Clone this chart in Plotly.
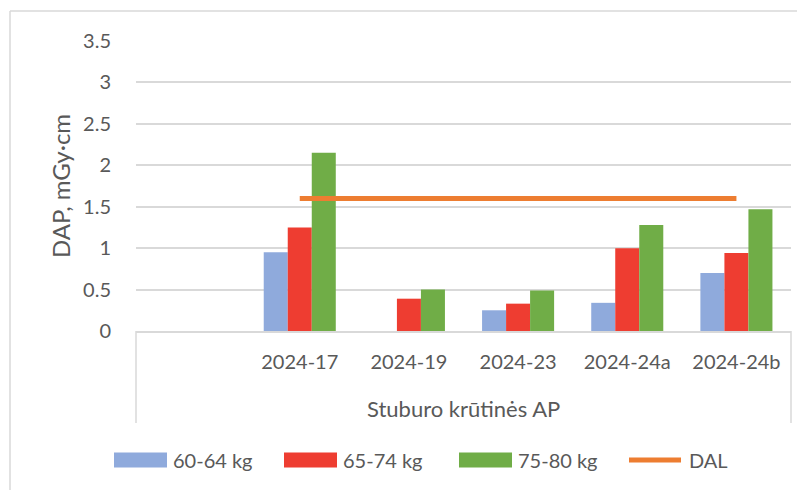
import plotly.graph_objects as go

categories = [" ", "2024-17", "2024-19", "2024-23", "2024-24a", "2024-24b"]
group_label = "Stuburo krūtinės AP"
series_names = ["60-64 kg", "65-74 kg", "75-80 kg"]
w60_64 = [None, 0.95, 0, 0.25, 0.34, 0.70]
w65_74 = [None, 1.25, 0.39, 0.33, 1.00, 0.94]
w75_80 = [None, 2.15, 0.50, 0.49, 1.28, 1.47]
dal_name = "DAL"
dal = [None, 1.6, 1.6, 1.6, 1.6, 1.6]
y_title = "DAP, mGy·cm"

colors = ["#8FAADC", "#EE3D31", "#70AD47"]
dal_color = "#ED7D31"
text_color = "#595959"
grid_color = "#D9D9D9"
FONT = "Lato"

# the page body has an 8px margin, so the figure is made 8px smaller and
# everything below is laid out in page pixels minus that offset
OFF = 8
W, H = 805 - OFF, 490 - OFF
L, T = 136 - OFF, 41 - OFF
R = W - (791 - OFF)
B = H - (331 - OFF)
pw, ph = W - L - R, H - T - B


def px(x):  # page pixel -> paper x
  return (x - OFF - L) / pw


def py(y):  # page pixel -> paper y
  return (H - B - (y - OFF)) / ph


fig = go.Figure()
for name, vals, c in zip(series_names, [w60_64, w65_74, w75_80], colors):
  fig.add_trace(go.Bar(x=categories, y=vals, name=name, marker=dict(color=c, line=dict(width=0)),
                       showlegend=False))
fig.add_trace(go.Scatter(x=categories, y=dal, name=dal_name, mode="lines",
                         line=dict(color=dal_color, width=5), showlegend=False))

shapes = [
  # outer chart border (left + top)
  dict(type="line", xref="paper", yref="paper", x0=px(10), x1=px(820), y0=py(11), y1=py(11),
       line=dict(color=grid_color, width=1.5)),
  dict(type="line", xref="paper", yref="paper", x0=px(10), x1=px(10), y0=py(11), y1=py(500),
       line=dict(color=grid_color, width=1.5)),
  # category axis frame
  dict(type="line", xref="paper", yref="paper", x0=0, x1=0, y0=0, y1=py(423),
       line=dict(color=grid_color, width=1.5)),
  dict(type="line", xref="paper", yref="paper", x0=1, x1=1, y0=0, y1=py(423),
       line=dict(color=grid_color, width=1.5)),
]
annotations = [
  dict(text=group_label, xref="paper", yref="paper", x=0.5, y=py(408), showarrow=False,
       font=dict(family=FONT, size=22, color=text_color), xanchor="center", yanchor="middle"),
  dict(text=y_title, xref="paper", yref="paper", x=px(60), y=0.5, showarrow=False, textangle=-90,
       font=dict(family=FONT, size=24, color=text_color), xanchor="center", yanchor="middle"),
]

# legend drawn by hand so swatches match the wide Excel-style keys
legend_x = [114, 284, 459]
for name, c, x0 in zip(series_names, colors, legend_x):
  shapes.append(dict(type="rect", xref="paper", yref="paper", x0=px(x0), x1=px(x0 + 53),
                     y0=py(467.5), y1=py(452.5), fillcolor=c, line=dict(width=0)))
  annotations.append(dict(text=name, xref="paper", yref="paper", x=px(x0 + 57), y=py(460),
                          showarrow=False, xanchor="left", yanchor="middle",
                          font=dict(family=FONT, size=20, color=text_color)))
shapes.append(dict(type="line", xref="paper", yref="paper", x0=px(629), x1=px(681),
                   y0=py(460), y1=py(460), line=dict(color=dal_color, width=5)))
annotations.append(dict(text=dal_name, xref="paper", yref="paper", x=px(687), y=py(460),
                        showarrow=False, xanchor="left", yanchor="middle",
                        font=dict(family=FONT, size=20, color=text_color)))

fig.update_layout(
  width=W, height=H,
  margin=dict(l=L, r=R, t=T, b=B, pad=0),
  barmode="group", bargap=0.34, bargroupgap=0,
  plot_bgcolor="white", paper_bgcolor="white",
  font=dict(family=FONT, size=20, color=text_color),
  shapes=shapes, annotations=annotations,
  showlegend=False,
)
fig.update_xaxes(type="category", categoryorder="array", categoryarray=categories,
                 showline=True, linecolor=grid_color, linewidth=1.5, showgrid=False,
                 ticks="", ticklabelstandoff=12, tickfont=dict(size=20))
fig.update_yaxes(range=[0, 3.5], dtick=0.5, showgrid=True, gridcolor=grid_color, gridwidth=1.5,
                 zeroline=False, showline=False, ticks="", ticklabelstandoff=24,
                 tickfont=dict(size=20))

fig.write_html("out.html")
